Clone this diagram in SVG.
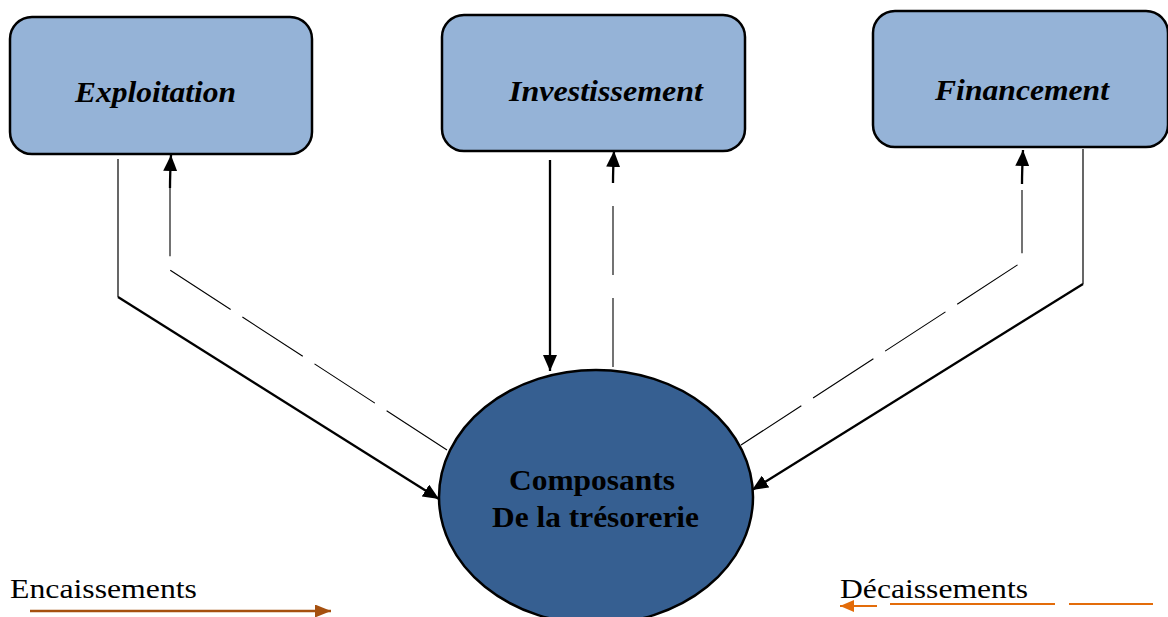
<svg xmlns="http://www.w3.org/2000/svg" width="1168" height="617" viewBox="0 0 1168 617">
<style>
.box{fill:#95B3D7;stroke:#000;stroke-width:2.5}
.ell{fill:#365F91;stroke:#000;stroke-width:2.5}
.lbl{font-family:"Liberation Serif","Times New Roman",serif;font-weight:bold;font-style:italic;font-size:30px;fill:#000}
.ctr{font-family:"Liberation Serif","Times New Roman",serif;font-weight:bold;font-size:30px;fill:#000}
.leg{font-family:"Liberation Serif","Times New Roman",serif;font-size:27px;fill:#000}
.thin{fill:none;stroke:#000;stroke-width:1.2}
.thick{fill:none;stroke:#000;stroke-width:2.3}
.dash{fill:none;stroke:#000;stroke-width:1.1;stroke-dasharray:72 14}
.dashm{fill:none;stroke:#000;stroke-width:1.1;stroke-dasharray:69 23}
</style>
<defs>
<marker id="ah" markerUnits="userSpaceOnUse" markerWidth="16" markerHeight="14" viewBox="0 0 16 14" refX="16" refY="7" orient="auto"><path d="M0,0 L16,7 L0,14 Z" fill="#000"/></marker>
<marker id="ahB" markerUnits="userSpaceOnUse" markerWidth="16" markerHeight="13" viewBox="0 0 16 13" refX="16" refY="6.5" orient="auto"><path d="M0,0 L16,6.5 L0,13 Z" fill="#A5500F"/></marker>
<marker id="ahO" markerUnits="userSpaceOnUse" markerWidth="14" markerHeight="12" viewBox="0 0 14 12" refX="14" refY="6" orient="auto"><path d="M0,0 L14,6 L0,12 Z" fill="#E36C0A"/></marker>
</defs>

<g id="connectors">
  <!-- Exploitation -->
  <path class="thin" d="M118,159 V297"/>
  <path class="thick" d="M118,297 L439,499" marker-end="url(#ah)"/>
  <path class="dash" d="M447,450 L170,270 V188"/>
  <path class="thick" d="M170,188 Q170,175 171,155" marker-end="url(#ah)"/>
  <!-- Investissement -->
  <path class="thick" d="M550,160 V371" marker-end="url(#ah)"/>
  <path class="dashm" d="M613,367 V183"/>
  <path class="thick" d="M613,183 Q613,170 614,151" marker-end="url(#ah)"/>
  <!-- Financement -->
  <path class="thin" d="M1083,149 V284"/>
  <path class="thick" d="M1083,284 L752,490" marker-end="url(#ah)"/>
  <path class="dash" d="M741,445 L1022,262 V190"/>
  <path class="thick" d="M1022,184 Q1022,172 1023,150" marker-end="url(#ah)"/>
</g>

<g id="exploitation">
  <rect class="box" x="10" y="17" width="302" height="137" rx="22"/>
  <text class="lbl" x="75" y="102" textLength="161" lengthAdjust="spacingAndGlyphs">Exploitation</text>
</g>
<g id="investissement">
  <rect class="box" x="442" y="15" width="303" height="136" rx="22"/>
  <text class="lbl" x="509" y="101" textLength="194" lengthAdjust="spacingAndGlyphs">Investissement</text>
</g>
<g id="financement">
  <rect class="box" x="873" y="11" width="295" height="136" rx="22"/>
  <text class="lbl" x="935" y="100" textLength="174" lengthAdjust="spacingAndGlyphs">Financement</text>
</g>
<g id="composants">
  <ellipse class="ell" cx="596" cy="497" rx="157" ry="127"/>
  <text class="ctr" x="509" y="490" textLength="166" lengthAdjust="spacingAndGlyphs">Composants</text>
  <text class="ctr" x="492" y="527" textLength="207" lengthAdjust="spacingAndGlyphs">De la trésorerie</text>
</g>

<g id="legend-encaissements">
  <text class="leg" x="10" y="598" textLength="187" lengthAdjust="spacingAndGlyphs">Encaissements</text>
  <path d="M30,611 H331" stroke="#A5500F" stroke-width="2.5" fill="none" marker-end="url(#ahB)"/>
</g>
<g id="legend-decaissements">
  <text class="leg" x="840" y="598" textLength="188" lengthAdjust="spacingAndGlyphs">Décaissements</text>
  <path d="M877,606 H840" stroke="#E36C0A" stroke-width="2.2" fill="none" marker-end="url(#ahO)"/>
  <path d="M890,604 H1055 M1069,604 H1153" stroke="#E36C0A" stroke-width="2.2" fill="none"/>
</g>
</svg>
